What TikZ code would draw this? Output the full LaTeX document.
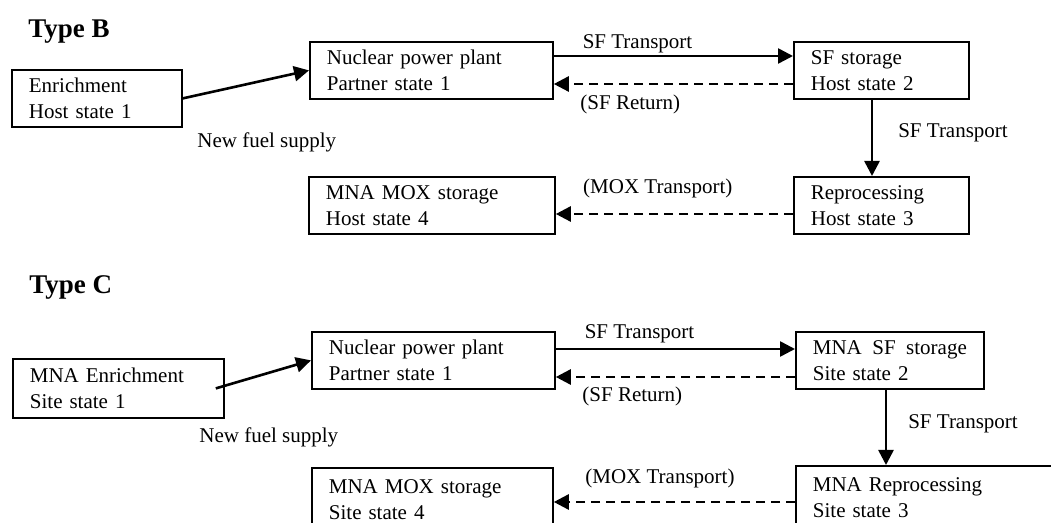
\documentclass[tikz,border=0pt]{standalone}
\usepackage{fontspec}
\setmainfont{Liberation Serif}
\usetikzlibrary{arrows.meta,positioning,calc}
\tikzset{
  box/.style={draw, line width=0.9pt, anchor=north west, align=left,
              inner xsep=8.5pt, inner ysep=3pt, minimum height=28.5pt,
              text width=#1, font=\fontsize{10.5}{13}\selectfont},
  sig/.style={-{Triangle[length=7.5pt,width=7.5pt]}, line width=1.3pt},
  ret/.style={sig, dash pattern=on 4.5pt off 3pt},
  lbl/.style={font=\fontsize{10.5}{13}\selectfont, inner sep=0pt},
  ttl/.style={font=\fontsize{13.5}{16}\selectfont\bfseries, anchor=base west, inner sep=0pt},
}
\begin{document}
\begin{tikzpicture}[x=0.5pt, y=-0.5pt]
    \useasboundingbox (0,0) rectangle (1051,523);
    \clip (0,0) rectangle (1051,523);
    % Type B
    \node[ttl] (typeb) at (28,38) {Type B};
    \node[box=68pt] (enrb) at (11,69) {Enrichment\\Host state 1};
    \node[box=104.5pt] (nppb) at (309,41) {Nuclear power plant\\Partner state 1};
    \node[box=70.5pt] (sfsb) at (793,41) {SF storage\\Host state 2};
    \node[box=70.5pt] (repb) at (793,176) {Reprocessing\\Host state 3};
    \node[box=106pt] (moxb) at (308,176) {MNA MOX storage\\Host state 4};
    \draw[sig] (enrb.east) -- (nppb.west);
    \node[lbl, anchor=base west] (nfsb) at (197,148) {New fuel supply};
    \draw[sig] ($(nppb.north east)+(0,15)$) -- node[lbl, above=0.7pt, pos=0.35] {SF Transport} ($(sfsb.north west)+(0,15)$);
    \draw[ret] ($(sfsb.north west)+(0,43)$) -- node[lbl, below=4.7pt, pos=0.68] {(SF Return)} ($(nppb.north east)+(0,43)$);
    \draw[sig] ($(sfsb.south west)+(79,0)$) -- node[lbl, right=12.5pt, pos=0.43] {SF Transport} ($(repb.north west)+(79,0)$);
    \draw[ret] ($(repb.north west)+(0,38)$) -- node[lbl, above=7.2pt, pos=0.57] {(MOX Transport)} ($(moxb.north east)+(0,38)$);
    % Type C
    \node[ttl] (typec) at (29,294) {Type C};
    \node[box=88.5pt, minimum height=29.5pt] (enrc) at (12,358) {MNA Enrichment\\Site state 1};
    \node[box=104.5pt] (nppc) at (311,331) {Nuclear power plant\\Partner state 1};
    \node[box=77pt] (sfsc) at (795,331) {MNA\hfill SF\hfill storage\\Site state 2};
    \node[box=123pt, minimum height=32pt] (repc) at (795,465) {MNA Reprocessing\\Site state 3};
    \node[box=103.5pt, minimum height=32pt] (moxc) at (311,467) {MNA MOX storage\\Site state 4};
    \draw[sig] ($(enrc.east)+(-9,0)$) -- (nppc.west);
    \node[lbl, anchor=base west] (nfsc) at (199,443) {New fuel supply};
    \draw[sig] ($(nppc.north east)+(0,18)$) -- node[lbl, above=2.2pt, pos=0.35] {SF Transport} ($(sfsc.north west)+(0,18)$);
    \draw[ret] ($(sfsc.north west)+(0,46)$) -- node[lbl, below=4.2pt, pos=0.68] {(SF Return)} ($(nppc.north east)+(0,46)$);
    \draw[sig] ($(sfsc.south west)+(91,0)$) -- node[lbl, right=10.5pt, pos=0.45] {SF Transport} ($(repc.north west)+(91,0)$);
    \draw[ret] ($(repc.north west)+(0,37)$) -- node[lbl, above=6.2pt, pos=0.56] {(MOX Transport)} ($(moxc.north east)+(0,35)$);
\end{tikzpicture}
\end{document}
